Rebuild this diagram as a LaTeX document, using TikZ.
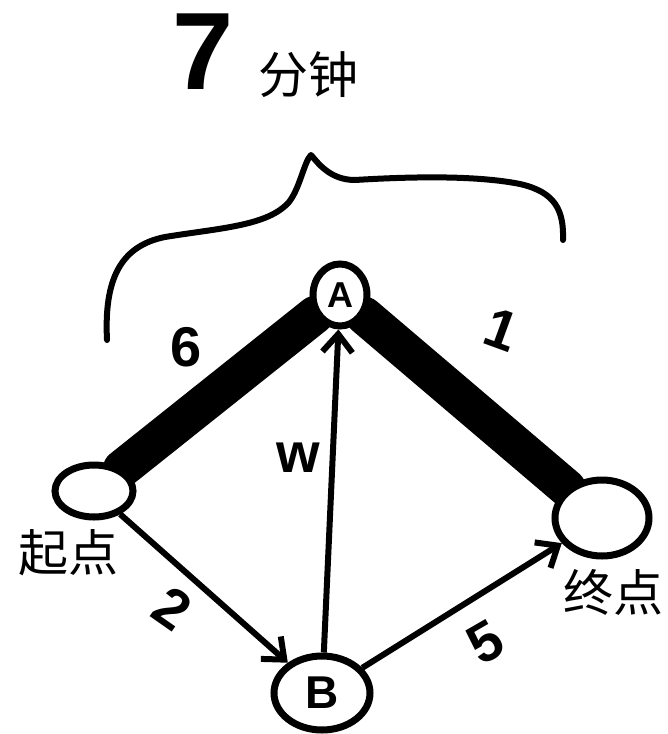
\documentclass[tikz,border=0pt]{standalone}
\usepackage{fontspec}
\setmainfont{Liberation Sans}
\newfontfamily\cjk{Noto Sans CJK SC}
\usetikzlibrary{shapes.geometric,arrows.meta,backgrounds}
\tikzset{
  nd/.style={draw, ellipse, line width=7pt, fill=white, inner sep=0pt},
  heavy/.style={line width=38pt, line cap=round},
  thin/.style={line width=6pt, -{Straight Barb[length=18pt,width=30pt,line width=6pt]}},
  lbl/.style={font=\bfseries\fontsize{56}{56}\selectfont},
  zh/.style={font=\cjk\fontsize{50}{50}\selectfont},
}
\begin{document}
\begin{tikzpicture}[x=1pt,y=-1pt]
\useasboundingbox (0,0) rectangle (668,734);
% nodes
\node[nd, minimum width=78pt, minimum height=52pt] (s) at (94,491) {};
\node[nd, minimum width=94pt, minimum height=76pt] (e) at (602,518) {};
\node[nd, minimum width=54pt, minimum height=62pt, font=\bfseries\fontsize{36}{36}\selectfont] (a) at (340,295) {A};
\node[nd, minimum width=96pt, minimum height=74pt, font=\bfseries\fontsize{46}{46}\selectfont] (b) at (322,693) {B};
% edges
\begin{pgfonlayer}{background}
\draw[heavy] (s) -- (a);
\draw[heavy] (a) -- (e);
\draw[thin] (s) -- (a);
\draw[thin] (a) -- (e);
\draw[thin] (s) -- (b);
\draw[thin] (b) -- (a);
\draw[thin] (b) -- (e);
\end{pgfonlayer}
% brace
\draw[line width=6pt, line cap=round, line join=round]
  (107,340) .. controls (104,280) and (120,246) .. (165,237)
  .. controls (220,228) and (268,226) .. (289,202)
  .. controls (300,188) and (304,162) .. (311,155)
  .. controls (318,163) and (330,180) .. (355,180)
  .. controls (420,176) and (480,176) .. (520,184)
  .. controls (555,192) and (564,210) .. (563,240);
% labels
\node[font=\bfseries\fontsize{110}{110}\selectfont] (seven) at (203,52) {7};
\node[zh, anchor=west] (min) at (255,75) {分钟};
\node[lbl] (l6) at (186,347) {6};
\node[lbl, rotate=-20] (l1) at (502,330) {1};
\node[lbl] (lw) at (298,458) {w};
\node[lbl, rotate=-35] (l2) at (172,608) {2};
\node[lbl, rotate=30] (l5) at (485,642) {5};
\node[zh] (start) at (68,553) {起点};
\node[zh, anchor=west] (end) at (560,592) {终点};
\end{tikzpicture}
\end{document}
